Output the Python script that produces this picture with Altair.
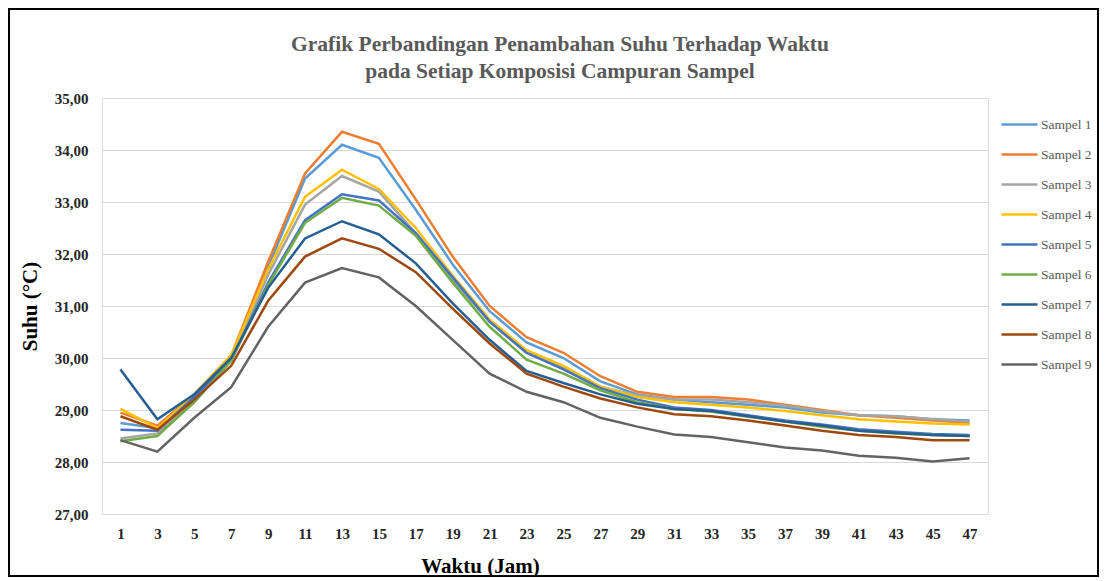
import altair as alt
import pandas as pd

hours = [1, 3, 5, 7, 9, 11, 13, 15, 17, 19, 21, 23, 25, 27, 29, 31, 33, 35, 37, 39, 41, 43, 45, 47]
names = ["Sampel 1", "Sampel 2", "Sampel 3", "Sampel 4", "Sampel 5",
         "Sampel 6", "Sampel 7", "Sampel 8", "Sampel 9"]
colors = ["#5B9BD5", "#ED7D31", "#A5A5A5", "#FFC000", "#4472C4",
          "#70AD47", "#255E91", "#9E480E", "#636363"]

s1 = [28.75, 28.65, 29.25, 30.00, 31.75, 33.45, 34.10, 33.85, 32.85, 31.80, 30.90, 30.30,
      30.00, 29.55, 29.30, 29.20, 29.15, 29.10, 29.05, 28.95, 28.90, 28.88, 28.82, 28.80]
s2 = [28.95, 28.70, 29.30, 30.05, 31.85, 33.55, 34.35, 34.12, 33.05, 31.95, 31.00, 30.40,
      30.10, 29.65, 29.35, 29.25, 29.25, 29.20, 29.10, 29.00, 28.90, 28.85, 28.80, 28.75]
s3 = [28.45, 28.55, 29.15, 29.95, 31.60, 32.95, 33.50, 33.20, 32.40, 31.50, 30.70, 30.10,
      29.82, 29.45, 29.28, 29.20, 29.20, 29.15, 29.08, 28.98, 28.90, 28.88, 28.82, 28.78]
s4 = [29.02, 28.65, 29.30, 30.05, 31.70, 33.10, 33.62, 33.25, 32.50, 31.58, 30.74, 30.15,
      29.85, 29.45, 29.25, 29.15, 29.10, 29.05, 28.98, 28.90, 28.82, 28.78, 28.74, 28.72]
s5 = [28.62, 28.60, 29.25, 29.95, 31.45, 32.65, 33.15, 33.03, 32.40, 31.55, 30.70, 30.10,
      29.78, 29.42, 29.20, 29.05, 29.00, 28.90, 28.80, 28.72, 28.63, 28.58, 28.54, 28.52]
s6 = [28.40, 28.50, 29.15, 29.95, 31.40, 32.60, 33.08, 32.93, 32.35, 31.45, 30.60, 29.97,
      29.70, 29.38, 29.15, 29.02, 28.97, 28.87, 28.78, 28.68, 28.60, 28.55, 28.52, 28.50]
s7 = [29.78, 28.82, 29.30, 30.00, 31.35, 32.30, 32.63, 32.38, 31.82, 31.05, 30.35, 29.75,
      29.52, 29.30, 29.12, 29.02, 28.98, 28.88, 28.78, 28.70, 28.60, 28.56, 28.52, 28.50]
s8 = [28.88, 28.62, 29.20, 29.85, 31.10, 31.95, 32.30, 32.10, 31.65, 30.95, 30.28, 29.70,
      29.45, 29.22, 29.05, 28.92, 28.88, 28.80, 28.70, 28.60, 28.52, 28.48, 28.42, 28.42]
s9 = [28.42, 28.20, 28.85, 29.44, 30.60, 31.45, 31.73, 31.55, 31.00, 30.35, 29.70, 29.35,
      29.15, 28.85, 28.68, 28.53, 28.48, 28.38, 28.28, 28.22, 28.12, 28.08, 28.01, 28.07]

series = [s1, s2, s3, s4, s5, s6, s7, s8, s9]
rows = []
for name, vals in zip(names, series):
    for h, v in zip(hours, vals):
        rows.append({"Jam": h, "Suhu": v, "Sampel": name})
df = pd.DataFrame(rows)

SERIF = "Liberation Serif"

lines = alt.Chart(df).mark_line(strokeWidth=2.5).encode(
    x=alt.X("Jam:O", sort=hours,
            axis=alt.Axis(title="Waktu (Jam)", labelAngle=0, labelFont=SERIF,
                          labelFontSize=15, labelFontWeight="bold", labelColor="#262626",
                          labelPadding=12, ticks=False, domain=False, grid=False,
                          titleFont=SERIF, titleFontSize=21, titleFontWeight="bold",
                          titleColor="#000000", titleX=378, titleY=52,
                          titleAlign="center", titleBaseline="middle")),
    y=alt.Y("Suhu:Q", scale=alt.Scale(domain=[27, 35], nice=False, zero=False),
            axis=alt.Axis(title="Suhu (°C)", values=[27, 28, 29, 30, 31, 32, 33, 34, 35],
                          labelExpr="replace(format(datum.value, '.2f'), '.', ',')",
                          labelFont=SERIF, labelFontSize=15, labelFontWeight="bold",
                          labelColor="#262626", labelPadding=14, ticks=False, domain=False,
                          grid=True, gridColor="#D9D9D9", gridWidth=1.2,
                          titleFont=SERIF, titleFontSize=21, titleFontWeight="bold",
                          titleColor="#000000", titleX=-72, titleY=208, titleAngle=-90,
                          titleAlign="center", titleBaseline="middle")),
    color=alt.Color("Sampel:N", scale=alt.Scale(domain=names, range=colors),
                    legend=alt.Legend(title=None, orient="none", legendX=898, legendY=7,
                                      symbolType="stroke", symbolStrokeWidth=2.5,
                                      symbolSize=1296, rowPadding=4,
                                      labelFont=SERIF, labelFontSize=13.5,
                                      labelColor="#595959", labelOffset=2)),
)

frame = alt.Chart(pd.DataFrame({"k": [0]})).mark_rect(
    fill=None, stroke="#000000", strokeWidth=2
).encode(
    x=alt.value(-93), x2=alt.value(996), y=alt.value(-89), y2=alt.value(478)
)

chart = alt.layer(lines, frame).properties(
    width=886, height=416,
    padding={"left": 94, "top": 90, "right": 111, "bottom": 65},
    autosize=alt.AutoSizeParams(type="none"),
    title=alt.TitleParams(
        text=["Grafik Perbandingan Penambahan Suhu Terhadap Waktu",
              "pada Setiap Komposisi Campuran Sampel"],
        font=SERIF, fontSize=21.5, fontWeight="bold", color="#595959",
        anchor="middle", dx=15, offset=-74, lineHeight=27),
).configure_view(stroke=None).configure(background="#FFFFFF")

chart.save("out.html", embed_options={"renderer": "svg", "actions": False})
